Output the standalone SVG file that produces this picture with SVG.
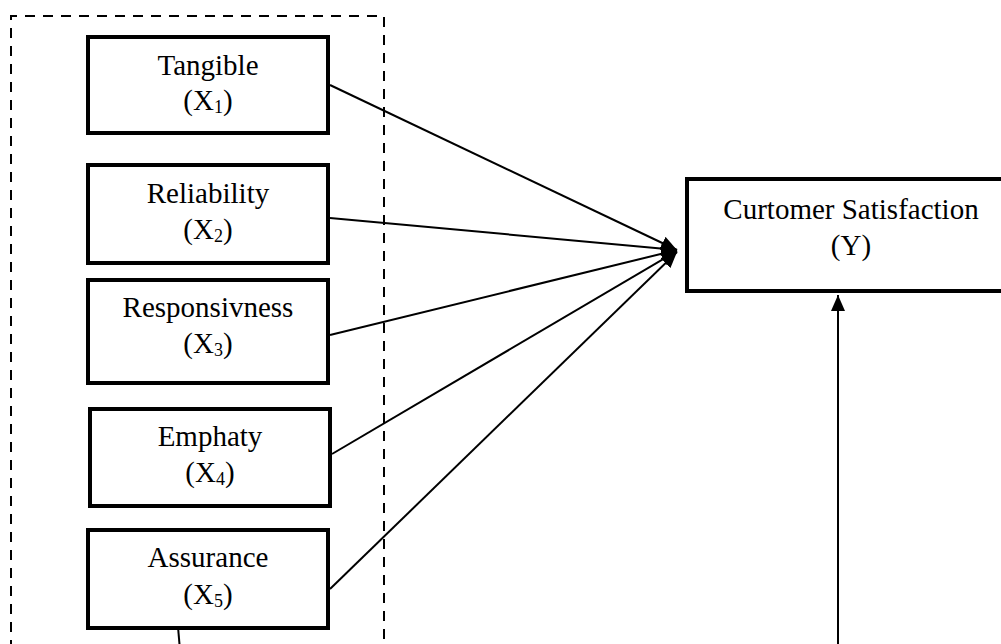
<svg xmlns="http://www.w3.org/2000/svg" width="1001" height="644" viewBox="0 0 1001 644">
<style>
.box{fill:#fff;stroke:#000;stroke-width:4}
.t{font-family:"Liberation Serif","Times New Roman",serif;font-size:29px;fill:#000;text-anchor:middle}
.sub{font-size:18px}
.ln{stroke:#000;stroke-width:2;fill:none}
.dash{stroke:#000;stroke-width:2;fill:none;stroke-dasharray:10 8}
</style>
<defs>
<marker id="ah" markerUnits="userSpaceOnUse" markerWidth="18" markerHeight="14" refX="16" refY="7" orient="auto">
<path d="M0,0 L16,7 L0,14 Z" fill="#000"/>
</marker>
</defs>
<rect width="1001" height="644" fill="#fff"/>
<path id="group-frame" class="dash" d="M11,650 V16 H384 V650"/>
<g id="connectors">
<line class="ln" x1="330" y1="85" x2="677" y2="250" marker-end="url(#ah)"/>
<line class="ln" x1="330" y1="218" x2="677" y2="250" marker-end="url(#ah)"/>
<line class="ln" x1="330" y1="335" x2="677" y2="250" marker-end="url(#ah)"/>
<line class="ln" x1="332" y1="454" x2="677" y2="251" marker-end="url(#ah)"/>
<line class="ln" x1="330" y1="589" x2="677" y2="252" marker-end="url(#ah)"/>
<line class="ln" x1="838" y1="650" x2="838" y2="295" marker-end="url(#ah)"/>
<line class="ln" x1="178" y1="627" x2="180" y2="650"/>
</g>
<g id="tangible">
<rect class="box" x="88" y="37" width="240" height="96"/>
<text class="t" x="208" y="75">Tangible</text>
<text class="t" x="208" y="110">(X<tspan class="sub" dy="3">1</tspan><tspan dy="-3">)</tspan></text>
</g>
<g id="reliability">
<rect class="box" x="88" y="165" width="240" height="98"/>
<text class="t" x="208" y="203">Reliability</text>
<text class="t" x="208" y="239">(X<tspan class="sub" dy="3">2</tspan><tspan dy="-3">)</tspan></text>
</g>
<g id="responsivness">
<rect class="box" x="88" y="280" width="240" height="103"/>
<text class="t" x="208" y="317">Responsivness</text>
<text class="t" x="208" y="353">(X<tspan class="sub" dy="3">3</tspan><tspan dy="-3">)</tspan></text>
</g>
<g id="emphaty">
<rect class="box" x="90" y="409" width="240" height="97"/>
<text class="t" x="210" y="446">Emphaty</text>
<text class="t" x="210" y="482">(X<tspan class="sub" dy="3">4</tspan><tspan dy="-3">)</tspan></text>
</g>
<g id="assurance">
<rect class="box" x="88" y="530" width="240" height="98"/>
<text class="t" x="208" y="567">Assurance</text>
<text class="t" x="208" y="604">(X<tspan class="sub" dy="3">5</tspan><tspan dy="-3">)</tspan></text>
</g>
<g id="satisfaction">
<rect class="box" x="687" y="179" width="330" height="112"/>
<text class="t" x="851" y="219">Curtomer Satisfaction</text>
<text class="t" x="851" y="255">(Y)</text>
</g>
</svg>
